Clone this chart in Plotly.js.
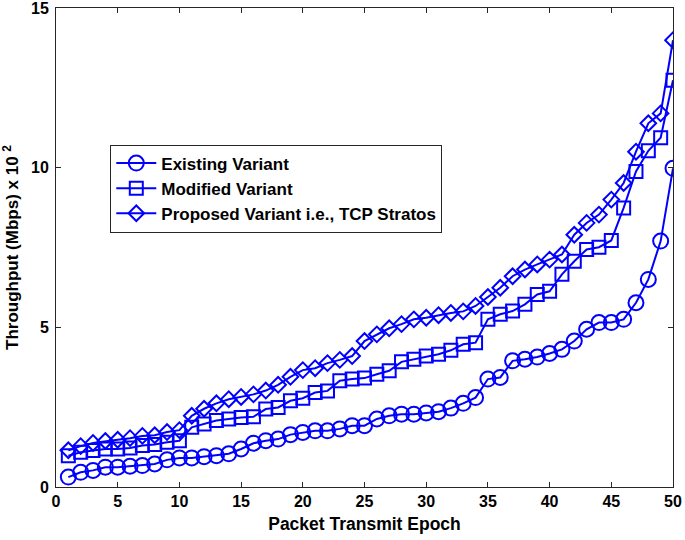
<!DOCTYPE html>
<html>
<head>
<meta charset="utf-8">
<script src="https://cdn.plot.ly/plotly-3.0.1.min.js"></script>
<style>
html,body{margin:0;padding:0;background:#fff;}
#chart{width:685px;height:540px;}
</style>
</head>
<body>
<div id="chart"></div>
<script>
const epochs = Array.from({length: 50}, (_, i) => i + 1);

const existingVariant = [
  0.31,0.46,0.52,0.62,0.62,0.65,0.67,0.72,0.85,0.91,
  0.91,0.95,0.98,1.04,1.19,1.37,1.45,1.50,1.64,1.71,
  1.76,1.76,1.82,1.92,1.92,2.13,2.23,2.28,2.28,2.32,
  2.36,2.47,2.62,2.80,3.38,3.43,3.95,4.00,4.07,4.18,
  4.31,4.57,4.94,5.15,5.15,5.25,5.77,6.50,7.70,9.98
];
const modifiedVariant = [
  0.98,1.09,1.14,1.19,1.19,1.22,1.30,1.33,1.40,1.45,
  1.87,1.97,2.08,2.13,2.18,2.20,2.44,2.49,2.70,2.78,
  2.96,3.01,3.33,3.38,3.41,3.53,3.64,3.92,4.00,4.10,
  4.16,4.28,4.47,4.52,5.25,5.41,5.51,5.72,6.03,6.13,
  6.66,7.07,7.44,7.51,7.72,8.74,9.88,10.53,10.94,12.74
];
const proposedVariant = [
  1.15,1.28,1.38,1.44,1.48,1.53,1.60,1.62,1.72,1.78,
  2.23,2.45,2.62,2.75,2.82,2.90,3.02,3.20,3.45,3.66,
  3.72,3.88,3.98,4.10,4.57,4.78,4.97,5.10,5.25,5.30,
  5.38,5.45,5.50,5.67,5.95,6.24,6.60,6.81,6.97,7.12,
  7.28,7.90,8.27,8.53,9.00,9.52,10.50,11.39,11.70,13.99
];
const seriesNames = ['Existing Variant', 'Modified Variant', 'Proposed Variant i.e., TCP Stratos'];
const xTicks = [0,5,10,15,20,25,30,35,40,45,50];
const yTicks = [0,5,10,15];

const blue = '#0000FF';
const fontFam = 'Liberation Sans, Arial, sans-serif';

function mk(y, name, symbol, size, grp) {
  return {
    x: epochs, y: y, name: name, type: 'scatter', mode: 'lines+markers',
    legendgroup: grp,
    line: {color: blue, width: 2},
    marker: {symbol: symbol, size: size, color: blue, line: {color: blue, width: 2}}
  };
}

const data = [
  mk(existingVariant, seriesNames[0], 'circle-open', 15, 'a'),
  mk(modifiedVariant, seriesNames[1], 'square-open', 13, 'b'),
  mk(proposedVariant, seriesNames[2], 'diamond-open', 12, 'c')
];

const axisCommon = {
  showgrid: false, zeroline: false, showline: true, linecolor: '#262626', linewidth: 1,
  mirror: 'allticks', ticks: 'inside', ticklen: 5, tickwidth: 1, tickcolor: '#262626',
  ticklabeloverflow: 'allow',
  tickfont: {family: fontFam, size: 16, color: '#000', weight: 'bold'}
};

const layout = {
  width: 685, height: 540,
  margin: {l: 56, r: 12, t: 8, b: 53},
  paper_bgcolor: '#fff', plot_bgcolor: '#fff',
  showlegend: true,
  xaxis: Object.assign({}, axisCommon, {
    range: [0, 50], tickvals: xTicks, ticktext: xTicks.map(String),
    title: {text: 'Packet Transmit Epoch', font: {family: fontFam, size: 17.5, color: '#000', weight: 'bold'}, standoff: 8}
  }),
  yaxis: Object.assign({}, axisCommon, {
    range: [0, 15], tickvals: yTicks, ticktext: yTicks.map(String),
    ticklabelstandoff: 3,
    title: {text: 'Throughput (Mbps) x 10 <sup>2</sup>', font: {family: fontFam, size: 17, color: '#000', weight: 'bold'}, standoff: 8}
  }),
  legend: {
    x: 0.088, y: 0.715, xanchor: 'left', yanchor: 'top',
    bgcolor: '#fff', bordercolor: '#262626', borderwidth: 1,
    font: {family: fontFam, size: 17, color: '#000', weight: 'bold'},
    tracegroupgap: 0, itemwidth: 40
  }
};

Plotly.newPlot('chart', data, layout, {displayModeBar: false, staticPlot: true});
</script>
</body>
</html>
